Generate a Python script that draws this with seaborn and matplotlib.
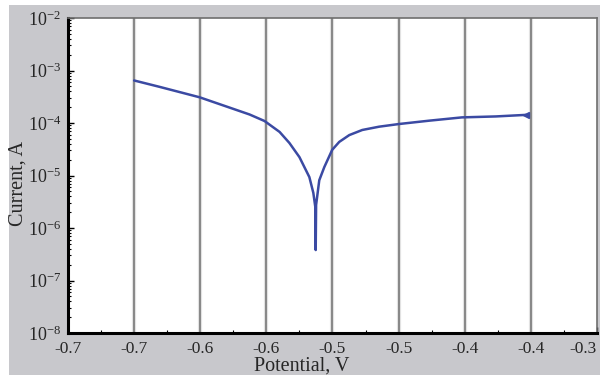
import numpy as np
import pandas as pd
import matplotlib
matplotlib.use("Agg")
import matplotlib.pyplot as plt
import seaborn as sns
from matplotlib.ticker import FixedLocator, NullFormatter

# ---- data ----
potential = [-0.700, -0.681, -0.6505, -0.628, -0.6127, -0.6014, -0.590, -0.5826,
             -0.575, -0.5675, -0.5645, -0.5630, -0.5627, -0.5624, -0.5600,
             -0.5562, -0.5502, -0.5449, -0.5373, -0.5275, -0.5147, -0.4996,
             -0.4770, -0.4521, -0.4265, -0.4035]
log_current = [-3.19, -3.31, -3.51, -3.705, -3.838, -3.962, -4.17, -4.38,
               -4.65, -5.03, -5.33, -5.60, -6.42, -5.56, -5.09,
               -4.84, -4.51, -4.36, -4.23, -4.133, -4.070, -4.019,
               -3.956, -3.893, -3.875, -3.845]
x_ticks = [-0.75, -0.70, -0.65, -0.60, -0.55, -0.50, -0.45, -0.40, -0.35]
x_tick_labels = ["-0.7", "-0.7", "-0.6", "-0.6", "-0.5", "-0.5", "-0.4", "-0.4", "-0.3"]
y_exponents = [-8, -7, -6, -5, -4, -3, -2]

df = pd.DataFrame({"Potential": potential,
                   "Current": [10.0 ** v for v in log_current]})

sns.set_theme(style="white")
plt.rcParams["font.family"] = ["Liberation Serif", "DejaVu Serif"]
plt.rcParams["mathtext.fontset"] = "custom"
plt.rcParams["mathtext.rm"] = "Liberation Serif"
plt.rcParams["mathtext.it"] = "Liberation Serif"

fig = plt.figure(figsize=(6.03, 3.80), dpi=100, facecolor="white")
bg = fig.add_axes([9 / 603, 5 / 380, 591 / 603, 370 / 380], zorder=-5)
bg.set_facecolor("#c8c8cc")
bg.set_xticks([])
bg.set_yticks([])
for s in bg.spines.values():
    s.set_visible(False)

ax = fig.add_axes([68 / 603, 47 / 380, 529 / 603, 315 / 380], zorder=1)
ax.set_facecolor("white")

sns.lineplot(data=df, x="Potential", y="Current", ax=ax, sort=False,
             estimator=None, color="#3b4aa3", linewidth=1.8, zorder=3)
ax.plot(potential[-1], 10.0 ** log_current[-1], marker="<", markersize=5,
        color="#3b4aa3", zorder=4)

ax.set_yscale("log")
ax.set_xlim(-0.75, -0.35)
ax.set_ylim(1e-8, 1e-2)

ax.set_xticks(x_ticks)
ax.set_xticklabels(x_tick_labels, fontsize=12.5)
ax.get_xticklabels()[-1].set_horizontalalignment("right")
ax.xaxis.set_minor_locator(FixedLocator([t + 0.025 for t in x_ticks[:-1]]))
ax.set_yticks([10.0 ** e for e in y_exponents])
ax.set_yticklabels([rf"$10^{{{e}}}$" for e in y_exponents], fontsize=13)
ax.yaxis.set_minor_locator(matplotlib.ticker.LogLocator(base=10, subs=np.arange(2, 10)))
ax.yaxis.set_minor_formatter(NullFormatter())

for t in x_ticks[1:-1]:
    ax.axvline(t, color="#e2e2e2", linewidth=3.0, zorder=1)
    ax.axvline(t, color="#6e6e6e", linewidth=1.1, zorder=2)

ax.tick_params(axis="x", which="major", pad=6)
ax.tick_params(axis="y", which="major", pad=5)
ax.tick_params(axis="both", which="major", direction="in", length=4, width=1,
               color="black", bottom=True, left=True)
ax.tick_params(axis="both", which="minor", direction="in", length=2, width=0.8,
               color="black", bottom=True, left=True)

for side in ["left", "bottom"]:
    ax.spines[side].set_color("black")
    ax.spines[side].set_linewidth(2.2)
for side in ["top", "right"]:
    ax.spines[side].set_color("#6e6e6e")
    ax.spines[side].set_linewidth(1.2)

ax.set_xlabel("Potential, V", fontsize=14.5)
ax.xaxis.set_label_coords(0.442, -0.075)
ax.set_ylabel("Current, A", fontsize=14.5)
ax.yaxis.set_label_coords(-0.076, 0.476)

fig.savefig("out.png", dpi=100, facecolor="white")
